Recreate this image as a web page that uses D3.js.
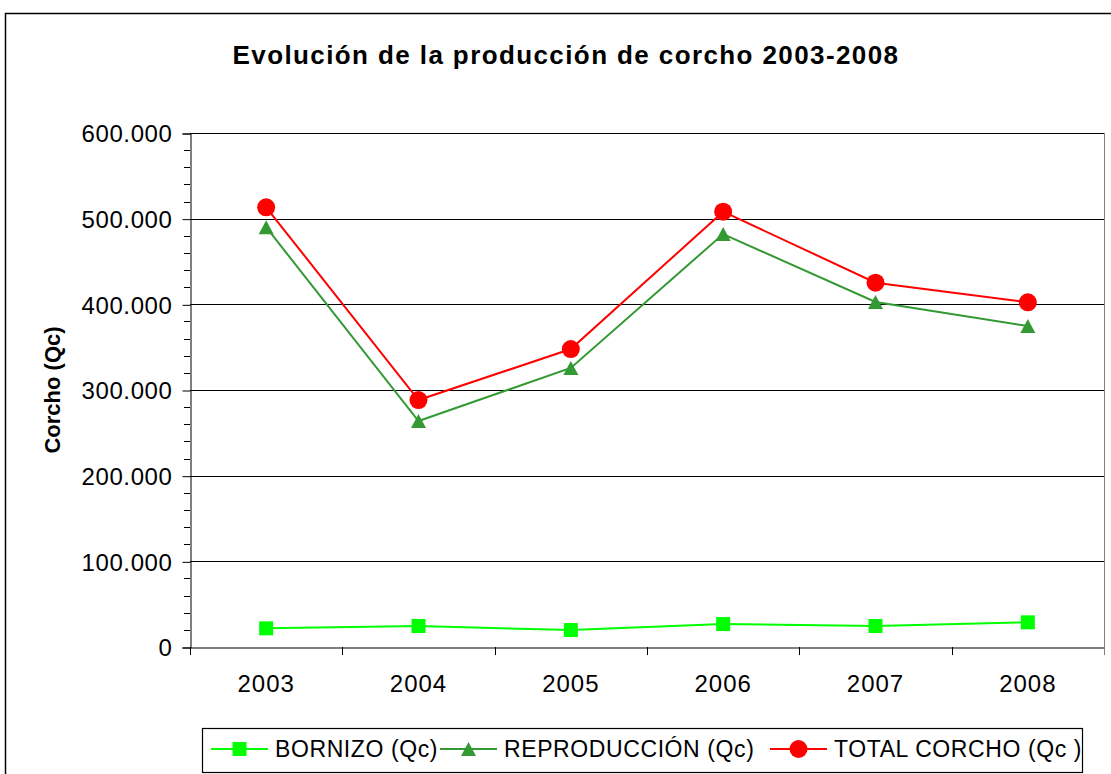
<!DOCTYPE html>
<html><head><meta charset="utf-8">
<script src="https://cdn.jsdelivr.net/npm/d3@7/dist/d3.min.js"></script>
<style>body{margin:0;background:#fff}svg{display:block}text{font-family:"Liberation Sans",Arial,sans-serif}</style>
</head><body>
<svg id="c" width="1111" height="774"></svg>
<script>
const years = ["2003","2004","2005","2006","2007","2008"];
const bornizo = [21800, 24500, 19800, 26800, 24500, 28800];
const reproduccion = [490000, 263800, 325700, 482000, 402700, 374700];
const total = [513300, 288300, 347800, 508200, 425300, 402400];
const yTicks = [0,100000,200000,300000,400000,500000,600000];
const seriesNames = ["BORNIZO (Qc)", "REPRODUCCIÓN (Qc)", "TOTAL CORCHO (Qc )"];

const svg = d3.select("#c");
const L=190, R=1104, T=133, B=647;
const x = d3.scaleBand().domain(years).range([L,R]);
const y = d3.scaleLinear().domain([0,600000]).range([B,T]);
const fmt = v => v===0 ? "0" : d3.format(",")(v).replace(/,/g,".");

// outer border
svg.append("rect").attr("x",5.5).attr("y",13.5).attr("width",1120).attr("height",800)
  .attr("fill","none").attr("stroke","#000").attr("stroke-width",1.5);

// title
svg.append("text").attr("x",566).attr("y",64).attr("text-anchor","middle")
  .attr("font-size",26).attr("font-weight","bold").attr("letter-spacing",1.4)
  .text("Evolución de la producción de corcho 2003-2008");

// gridlines
svg.append("g").selectAll("line").data(yTicks.slice(1)).join("line")
  .attr("x1",L).attr("x2",R).attr("y1",d=>Math.round(y(d))+0.5).attr("y2",d=>Math.round(y(d))+0.5)
  .attr("stroke","#000").attr("stroke-width",1);
// right border
svg.append("line").attr("x1",R+0.5).attr("x2",R+0.5).attr("y1",T).attr("y2",B).attr("stroke","#808080");

// minor ticks
const minor = d3.range(0,600001,20000).filter(v=>v%100000!==0);
svg.append("g").selectAll("line").data(minor).join("line")
  .attr("x1",L-6).attr("x2",L).attr("y1",d=>Math.round(y(d))+0.5).attr("y2",d=>Math.round(y(d))+0.5)
  .attr("stroke","#000");

// y axis
const ya = svg.append("g").attr("transform",`translate(${L+0.5},0.5)`)
  .call(d3.axisLeft(y).tickValues(yTicks).tickFormat(fmt).tickSize(8).tickPadding(10));
ya.selectAll("text").attr("font-size",24).attr("letter-spacing",0.6).attr("fill","#000").attr("font-family","Liberation Sans, Arial").attr("dy","0.35em");
ya.selectAll("line,path").attr("stroke","#000");

// x axis
const xa = svg.append("g").attr("transform",`translate(0,${B+0.5})`)
  .call(d3.axisBottom(x).tickSize(0).tickPadding(27));
xa.selectAll("text").attr("font-size",24).attr("letter-spacing",1).attr("fill","#000").attr("font-family","Liberation Sans, Arial");
xa.select("path").attr("stroke","#000");
svg.append("g").selectAll("line").data(d3.range(years.length+1)).join("line")
  .attr("x1",i=>Math.round(L+i*x.step())+0.5).attr("x2",i=>Math.round(L+i*x.step())+0.5)
  .attr("y1",B).attr("y2",B+8).attr("stroke",(d,i)=>i===years.length?"#808080":"#000");

const cx = d => x(d)+x.bandwidth()/2;
const line = d3.line().x((d,i)=>cx(years[i])).y(d=>y(d));

const cfg = [
  {vals:bornizo, color:"#00FF00", mk:"square"},
  {vals:reproduccion, color:"#339933", mk:"triangle"},
  {vals:total, color:"#FF0000", mk:"circle"}
];
function marker(g, type, color, px, py){
  if(type==="square") g.append("rect").attr("x",px-7).attr("y",py-7).attr("width",14).attr("height",14).attr("fill",color);
  else if(type==="triangle") g.append("path").attr("d",`M${px},${py-7}L${px+7.5},${py+7}L${px-7.5},${py+7}Z`).attr("fill",color);
  else g.append("circle").attr("cx",px).attr("cy",py).attr("r",9).attr("fill",color);
}
cfg.forEach(s=>{
  const g = svg.append("g");
  g.append("path").attr("d",line(s.vals)).attr("fill","none").attr("stroke",s.color).attr("stroke-width",2);
  s.vals.forEach((v,i)=>marker(g,s.mk,s.color,cx(years[i]),y(v)));
});

// y title
svg.append("text").attr("transform",`translate(60,${(T+B)/2}) rotate(-90)`).attr("text-anchor","middle")
  .attr("font-size",22).attr("font-weight","bold").text("Corcho (Qc)");

// legend
svg.append("rect").attr("x",202.5).attr("y",728.5).attr("width",880).attr("height",44)
  .attr("fill","#fff").attr("stroke","#000").attr("stroke-width",1.2);
const lx = [211, 440, 770];
cfg.forEach((s,i)=>{
  const g = svg.append("g");
  g.append("line").attr("x1",lx[i]).attr("x2",lx[i]+57).attr("y1",749).attr("y2",749).attr("stroke",s.color).attr("stroke-width",2);
  marker(g,s.mk,s.color,lx[i]+28.5,749);
  g.append("text").attr("x",lx[i]+64).attr("y",749).attr("dy","0.35em").attr("font-size",23).attr("letter-spacing",0.6).text(seriesNames[i]);
});
</script>
</body></html>
